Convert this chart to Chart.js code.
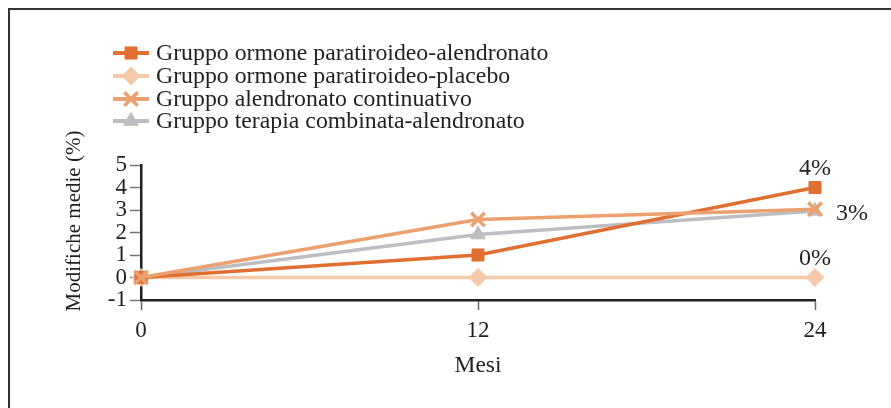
<!DOCTYPE html>
<html>
<head>
<meta charset="utf-8">
<script src="https://cdn.jsdelivr.net/npm/chart.js@4"></script>
<style>
  html, body { margin: 0; padding: 0; background: #fff; }
  #wrap { position: relative; width: 891px; height: 408px; overflow: hidden; background: #fff; }
  #frame { position: absolute; left: 8px; top: 8px; width: 900px; height: 420px;
           border-top: 2px solid #333; border-left: 2px solid #333; }
  canvas { position: absolute; left: 0; top: 0; }
</style>
</head>
<body>
<div id="wrap">
  <div id="frame"></div>
  <canvas id="chart" width="891" height="408"></canvas>
</div>
<script>
// Data
const months = [0, 12, 24];
const xTicks = [0, 12, 24];
const seriesNames = [
  'Gruppo ormone paratiroideo-alendronato',
  'Gruppo ormone paratiroideo-placebo',
  'Gruppo alendronato continuativo',
  'Gruppo terapia combinata-alendronato'
];
const pthAlendronato = [0, 1.0, 4.0];
const pthPlacebo = [0, 0, 0];
const alendronatoCont = [0, 2.58, 3.03];
const terapiaCombinata = [0, 1.91, 2.96];
const endLabels = ['4%', '0%', '', '3%'];
const yTitle = 'Modifiche medie (%)';

const TEXT = '#231f20';
const SERIF = "'Liberation Serif', 'DejaVu Serif', serif";
Chart.defaults.font.family = SERIF;
Chart.defaults.color = TEXT;

const styles = [
  { color: '#e06f31', point: 'rect', radius: 8.5, bw: 1 },
  { color: '#f6c9a9', point: 'rectRot', radius: 9, bw: 1 },
  { color: '#eca06f', point: 'crossRot', radius: 9.5, bw: 3.5 },
  { color: '#bdbec2', point: 'triangle', radius: 8.5, bw: 1 }
];
const values = [pthAlendronato, pthPlacebo, alendronatoCont, terapiaCombinata];
const drawOrder = [1, 3, 0, 2]; // cross on top, placebo at the back

const datasets = values.map((vals, i) => ({
  label: seriesNames[i],
  data: months.map((m, j) => ({ x: m, y: vals[j] })),
  borderColor: styles[i].color,
  backgroundColor: styles[i].color,
  borderWidth: 3.5,
  pointStyle: styles[i].point,
  pointRadius: styles[i].radius,
  pointBorderWidth: styles[i].bw,
  pointBorderColor: styles[i].color,
  pointBackgroundColor: styles[i].color,
  tension: 0,
  clip: false,
  order: drawOrder[i]
}));

// Legend: line sample with marker, drawn in the upper left
const legendPlugin = {
  id: 'sideLegend',
  afterDraw(chart) {
    const ctx = chart.ctx;
    const rows = [53, 76, 99, 121];
    ctx.save();
    seriesNames.forEach((name, i) => {
      const y = rows[i];
      const st = styles[i];
      ctx.strokeStyle = st.color;
      ctx.fillStyle = st.color;
      ctx.lineWidth = 4;
      ctx.beginPath();
      ctx.moveTo(113, y);
      ctx.lineTo(149, y);
      ctx.stroke();
      ctx.lineWidth = st.bw;
      Chart.helpers.drawPoint(ctx, {
        pointStyle: st.point, radius: st.radius, borderWidth: st.bw, rotation: 0
      }, 131, y);
      ctx.fillStyle = TEXT;
      ctx.font = '23.8px ' + SERIF;
      ctx.textAlign = 'left';
      ctx.textBaseline = 'middle';
      ctx.fillText(name, 156, y + 1);
    });
    ctx.restore();
  }
};

// Percent labels next to the last points, plus the y title
const endLabelPlugin = {
  id: 'endLabels',
  afterDatasetsDraw(chart) {
    const ctx = chart.ctx;
    ctx.save();
    ctx.font = '24px ' + SERIF;
    ctx.fillStyle = TEXT;
    ctx.textBaseline = 'middle';
    chart.data.datasets.forEach((ds, i) => {
      const txt = endLabels[i];
      if (!txt) return;
      const meta = chart.getDatasetMeta(i);
      const pt = meta.data[meta.data.length - 1];
      if (i === 3) {
        ctx.textAlign = 'left';
        ctx.fillText(txt, pt.x + 21, pt.y + 3);
      } else {
        ctx.textAlign = 'center';
        ctx.fillText(txt, pt.x, pt.y - 19);
      }
    });
    // y axis title, a bit above the middle of the axis as in the reference
    ctx.translate(74, 221);
    ctx.rotate(-Math.PI / 2);
    ctx.font = '21px ' + SERIF;
    ctx.textAlign = 'center';
    ctx.fillText(yTitle, 0, 0);
    ctx.restore();
  }
};

new Chart(document.getElementById('chart'), {
  type: 'line',
  data: { datasets },
  options: {
    responsive: false,
    animation: false,
    layout: { padding: { left: 0, right: 76, top: 165, bottom: 0 } },
    plugins: { legend: { display: false }, tooltip: { enabled: false } },
    scales: {
      x: {
        type: 'linear',
        min: 0,
        max: 24,
        afterBuildTicks: s => { s.ticks = xTicks.map(v => ({ value: v })); },
        afterFit: s => { s.height = 108; },
        grid: { drawOnChartArea: false, drawTicks: true, tickLength: 10, tickColor: '#666', tickWidth: 1.5 },
        border: { display: true, color: TEXT, width: 2.5 },
        ticks: { font: { size: 23 }, color: TEXT, padding: 7, maxRotation: 0 },
        title: { display: true, text: 'Mesi', font: { size: 23.5 }, color: TEXT, padding: { top: 0, bottom: 28 } }
      },
      y: {
        min: -1,
        max: 5,
        afterFit: s => { s.width = 141; },
        grid: { drawOnChartArea: false, drawTicks: true, tickLength: 11, tickColor: '#777', tickWidth: 1.5 },
        border: { display: true, color: TEXT, width: 2.5 },
        ticks: { stepSize: 1, autoSkip: false, font: { size: 23 }, color: TEXT, padding: 3 },
        title: { display: false }
      }
    }
  },
  plugins: [legendPlugin, endLabelPlugin]
});
</script>
</body>
</html>
